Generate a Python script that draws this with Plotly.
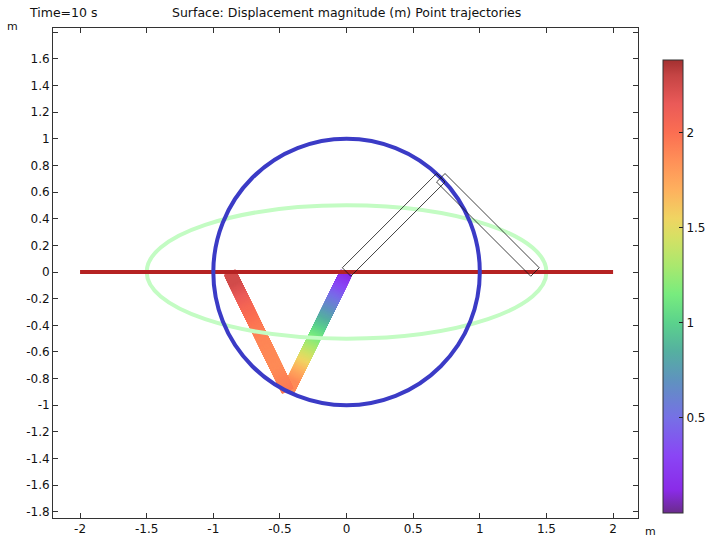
import numpy as np
import plotly.graph_objects as go

# ---------------- data ----------------
x_ticks = [-2, -1.5, -1, -0.5, 0, 0.5, 1, 1.5, 2]
x_tick_labels = ["-2", "-1.5", "-1", "-0.5", "0", "0.5", "1", "1.5", "2"]
y_ticks = [-1.8, -1.6, -1.4, -1.2, -1.0, -0.8, -0.6, -0.4, -0.2, 0.0,
           0.2, 0.4, 0.6, 0.8, 1.0, 1.2, 1.4, 1.6, 1.8]
y_tick_labels = ["-1.8", "-1.6", "-1.4", "-1.2", "-1", "-0.8", "-0.6", "-0.4", "-0.2", "0",
                 "0.2", "0.4", "0.6", "0.8", "1", "1.2", "1.4", "1.6", ""]
cbar_ticks = [0.5, 1.0, 1.5, 2.0]
cbar_tick_labels = ["0.5", "1", "1.5", "2"]
cbar_min, cbar_max = 0.0, 2.38

# point trajectories
slider_path_x = [-2.0, 2.0]
slider_path_y = [0.0, 0.0]
crank_radius = 1.0
ellipse_semi_x = 1.5
ellipse_semi_y = 0.5

# rods (deformed at t = 10 s and undeformed outline)
rod_width = 0.095
outline_width = 0.09
deformed_x = [0.0, -0.44, -0.878]
deformed_y = [0.0, -0.895, 0.0]
undeformed_x = [0.0, 0.707, 1.414]
undeformed_y = [0.0, 0.707, 0.0]
station_fraction = [0.0, 0.25, 0.5, 0.75, 1.0]
rod1_disp = [0.0, 0.49, 0.98, 1.48, 1.97]    # origin -> joint
rod2_disp = [1.97, 1.87, 1.90, 2.05, 2.30]   # joint -> slider

# colour table (value, colour)
cmap_values = [0.0, 0.12, 0.30, 0.50, 0.70, 0.85, 1.00, 1.15, 1.30, 1.45, 1.55, 1.70, 1.85, 2.00, 2.15, 2.30, 2.38]
cmap_colors = ["#6a2c8c", "#8a2be8", "#8a45f5", "#7670e6", "#5f93be", "#55b0a0", "#5bd28c", "#78ec7e",
               "#aae86e", "#d6e064", "#f0d462", "#feb05e", "#ff9058", "#fb6e52", "#ea5a58", "#c54444", "#a33030"]

# ---------------- layout geometry ----------------
W, H = 712, 540
ml, mr, mt, mb = 53, 74, 28, 22
x_range = [-2.203, 2.187]
y_range = [-1.846, 1.831]
plot_w = W - ml - mr
px_per_unit = plot_w / (x_range[1] - x_range[0])

colorscale = [[(v - cbar_min) / (cbar_max - cbar_min), c] for v, c in zip(cmap_values, cmap_colors)]
FONT = "DejaVu Sans"
TXT = "#111111"

fig = go.Figure()

# deformed rods: dense rotated square markers coloured through the colorscale
rods_disp = [rod1_disp, rod2_disp]
mx, my, mc, ma = [], [], [], []
for i in range(2):
    x0, y0 = deformed_x[i], deformed_y[i]
    x1, y1 = deformed_x[i + 1], deformed_y[i + 1]
    L = np.hypot(x1 - x0, y1 - y0)
    n = int(L * px_per_unit * 1.5)
    s = np.linspace(rod_width / 2, L - rod_width / 2, n)
    f = s / L
    mx.extend(x0 + f * (x1 - x0))
    my.extend(y0 + f * (y1 - y0))
    mc.extend(np.interp(f, station_fraction, rods_disp[i]))
    ma.extend([np.degrees(np.arctan2(-(y1 - y0), x1 - x0))] * n)

fig.add_trace(go.Scatter(
    x=mx, y=my, mode="markers", hoverinfo="skip", showlegend=False,
    marker=dict(symbol="square", size=rod_width * px_per_unit, angle=ma,
                color=mc, colorscale=colorscale, cmin=cbar_min, cmax=cbar_max,
                line=dict(width=0), showscale=True,
                colorbar=dict(
                    x=(663 - ml) / plot_w, xanchor="left", xpad=0, ypad=0,
                    y=(H - mb - 286.5) / (H - mt - mb), yanchor="middle",
                    thickness=20, thicknessmode="pixels",
                    len=453, lenmode="pixels",
                    outlinewidth=1, outlinecolor="#333333",
                    tickvals=cbar_ticks, ticktext=cbar_tick_labels,
                    ticks="inside", ticklen=4, tickcolor="#222222",
                    tickfont=dict(family=FONT, size=12, color=TXT),
                ))))

shapes = []
# ellipse trajectory
shapes.append(dict(type="circle", xref="x", yref="y", layer="above",
                   x0=-ellipse_semi_x, x1=ellipse_semi_x, y0=-ellipse_semi_y, y1=ellipse_semi_y,
                   line=dict(color="#c3fcc3", width=4)))
# slider trajectory
shapes.append(dict(type="line", xref="x", yref="y", layer="above",
                   x0=slider_path_x[0], x1=slider_path_x[1], y0=slider_path_y[0], y1=slider_path_y[1],
                   line=dict(color="#b52222", width=4)))
# crank-end trajectory
shapes.append(dict(type="circle", xref="x", yref="y", layer="above",
                   x0=-crank_radius, x1=crank_radius, y0=-crank_radius, y1=crank_radius,
                   line=dict(color="#3b3bc6", width=4)))
# undeformed rod outlines
for i in range(2):
    p0 = np.array([undeformed_x[i], undeformed_y[i]])
    p1 = np.array([undeformed_x[i + 1], undeformed_y[i + 1]])
    d = (p1 - p0) / np.linalg.norm(p1 - p0)
    nrm = np.array([-d[1], d[0]]) * outline_width / 2
    pts = [p0 + nrm, p1 + nrm, p1 - nrm, p0 - nrm]
    path = "M " + " L ".join(f"{p[0]:.4f},{p[1]:.4f}" for p in pts) + " Z"
    shapes.append(dict(type="path", xref="x", yref="y", layer="above", path=path,
                       line=dict(color="#111111", width=0.8)))

annotations = [
    dict(text="Time=10 s", xref="paper", yref="paper", x=(27 - ml) / plot_w, y=(H - mb - 12) / (H - mt - mb),
         xanchor="left", yanchor="middle", showarrow=False, font=dict(family=FONT, size=12.5, color=TXT)),
    dict(text="Surface: Displacement magnitude (m) Point trajectories", xref="paper", yref="paper",
         x=(346.5 - ml) / plot_w, y=(H - mb - 12) / (H - mt - mb),
         xanchor="center", yanchor="middle", showarrow=False, font=dict(family=FONT, size=12.5, color=TXT)),
    dict(text="m", xref="paper", yref="paper", x=(13 - ml) / plot_w, y=(H - mb - 27) / (H - mt - mb),
         xanchor="center", yanchor="middle", showarrow=False, font=dict(family=FONT, size=11, color=TXT)),
    dict(text="m", xref="paper", yref="paper", x=(650 - ml) / plot_w, y=(H - mb - 531) / (H - mt - mb),
         xanchor="center", yanchor="middle", showarrow=False, font=dict(family=FONT, size=11, color=TXT)),
]

axis_common = dict(showgrid=False, zeroline=False, showline=True, mirror="ticks",
                   linecolor="#333333", linewidth=1, ticks="inside", ticklen=5,
                   tickcolor="#333333", tickfont=dict(family=FONT, size=12, color=TXT),
                   fixedrange=True)

fig.update_layout(
    width=W, height=H,
    margin=dict(l=ml, r=mr, t=mt, b=mb, autoexpand=False),
    paper_bgcolor="white", plot_bgcolor="white",
    xaxis=dict(range=x_range, tickvals=x_ticks, ticktext=x_tick_labels, **axis_common),
    yaxis=dict(range=y_range, tickvals=y_ticks, ticktext=y_tick_labels, **axis_common),
    shapes=shapes, annotations=annotations,
    font=dict(family=FONT, size=12, color=TXT),
)

fig.write_html("out.html", config={"displayModeBar": False},
               post_script="document.body.style.margin='0px';document.body.style.overflow='hidden';")
